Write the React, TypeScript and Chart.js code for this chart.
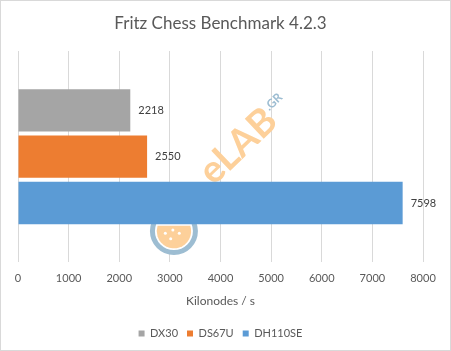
import React, { useEffect, useRef } from "react";
import { Chart, registerables } from "chart.js";

Chart.register(...registerables);

const categories = [""];
const seriesNames = ["DX30", "DS67U", "DH110SE"];
const seriesValues = [[2218], [2550], [7598]];
const seriesColors = ["#a5a5a5", "#ed7d31", "#5b9bd5"];
const xMin = 0;
const xMax = 8000;
const xStep = 1000;
const titleText = "Fritz Chess Benchmark 4.2.3";
const xTitle = "Kilonodes / s";
const watermarkMain = "eLAB";
const watermarkSuffix = ".GR";

const FONT = "Lato, 'Open Sans', sans-serif";

export default function App() {
  const ref = useRef<HTMLCanvasElement | null>(null);

  useEffect(() => {
    document.body.style.margin = "0";
    const canvas = ref.current;
    if (!canvas) return;

    const labelPlugin = {
      id: "valueLabels",
      afterDatasetsDraw(chart: any) {
        const ctx = chart.ctx;
        ctx.save();
        ctx.font = `11px ${FONT}`;
        ctx.fillStyle = "#404040";
        ctx.textAlign = "left";
        ctx.textBaseline = "middle";
        chart.data.datasets.forEach((ds: any, i: number) => {
          const meta = chart.getDatasetMeta(i);
          meta.data.forEach((bar: any, j: number) => {
            ctx.fillText(String(ds.data[j]), bar.x + 8, bar.y);
          });
        });
        ctx.restore();
      },
    };

    const watermarkPlugin = {
      id: "watermark",
      beforeDatasetsDraw(chart: any) {
        const ctx = chart.ctx;
        const a = chart.chartArea;
        const w = a.right - a.left;
        const h = a.bottom - a.top;
        ctx.save();
        // circle logo
        const cx = a.left + w * 0.385;
        const cy = a.top + h * 0.852;
        const r = 21.5;
        ctx.beginPath();
        ctx.arc(cx, cy, r, 0, Math.PI * 2);
        ctx.fillStyle = "#ffffff";
        ctx.fill();
        ctx.beginPath();
        ctx.arc(cx, cy, r * 0.8, -0.1 * Math.PI, 1.1 * Math.PI);
        ctx.closePath();
        ctx.fillStyle = "#fdd09a";
        ctx.fill();
        ctx.beginPath();
        ctx.arc(cx, cy, r, 0, Math.PI * 2);
        ctx.strokeStyle = "#9dbdd2";
        ctx.lineWidth = 5;
        ctx.stroke();
        ctx.fillStyle = "#ffffff";
        [[-0.4, 0.1], [-0.05, -0.05], [0.25, 0.1], [-0.15, 0.35]].forEach(([dx, dy]) => {
          ctx.beginPath();
          ctx.arc(cx + dx * r, cy + dy * r, 1.5, 0, Math.PI * 2);
          ctx.fill();
        });
        // text
        ctx.translate(a.left + w * 0.483, a.top + h * 0.64);
        ctx.rotate(-0.76);
        ctx.font = `bold 38px ${FONT}`;
        ctx.textBaseline = "alphabetic";
        ctx.textAlign = "left";
        ctx.fillStyle = "#fdd09a";
        ctx.fillText(watermarkMain, 0, 0);
        const tw = ctx.measureText(watermarkMain).width;
        ctx.font = `bold 12px ${FONT}`;
        ctx.fillStyle = "#9dbdd2";
        ctx.fillText(watermarkSuffix, tw + 1, -16);
        ctx.restore();
      },
    };

    const borderPlugin = {
      id: "outerBorder",
      beforeDraw(chart: any) {
        const ctx = chart.ctx;
        ctx.save();
        ctx.fillStyle = "#ffffff";
        ctx.fillRect(0, 0, chart.width, chart.height);
        ctx.restore();
      },
      afterDraw(chart: any) {
        const ctx = chart.ctx;
        ctx.save();
        ctx.strokeStyle = "#d9d9d9";
        ctx.lineWidth = 1;
        ctx.strokeRect(0.5, 0.5, chart.width - 1, chart.height - 1);
        ctx.restore();
      },
    };

    const chart = new Chart(canvas, {
      type: "bar",
      data: {
        labels: categories,
        datasets: seriesNames.map((name, i) => ({
          label: name,
          data: seriesValues[i],
          backgroundColor: seriesColors[i],
          borderWidth: 0,
          categoryPercentage: 0.657,
          barPercentage: 0.913,
        })),
      },
      options: {
        indexAxis: "y",
        responsive: false,
        animation: false,
        devicePixelRatio: 1,
        layout: { padding: { left: 18, right: 28, top: 0, bottom: 2 } },
        scales: {
          x: {
            min: xMin,
            max: xMax,
            ticks: {
              stepSize: xStep,
              color: "#595959",
              font: { family: FONT, size: 11 },
              padding: 9,
              callback: (v: any) => String(v),
            },
            grid: { color: "#d9d9d9", drawTicks: false },
            border: { display: false },
            title: {
              display: true,
              text: xTitle,
              color: "#595959",
              font: { family: FONT, size: 12 },
              padding: { top: 0, bottom: 11 },
            },
          },
          y: { display: false },
        },
        plugins: {
          title: {
            display: true,
            text: titleText,
            color: "#595959",
            font: { family: FONT, size: 17, weight: "normal" },
            padding: { top: 13, bottom: 17.6 },
          },
          legend: {
            position: "bottom",
            labels: {
              color: "#595959",
              font: { family: FONT, size: 11 },
              boxWidth: 6,
              boxHeight: 6,
              padding: 9,
            },
          },
          tooltip: { enabled: false },
        },
      },
      plugins: [watermarkPlugin, labelPlugin, borderPlugin],
    } as any);

    return () => chart.destroy();
  }, []);

  return (
    <div style={{ width: 451, height: 351 }}>
      <canvas ref={ref} width={451} height={351} style={{ display: "block" }} />
    </div>
  );
}
